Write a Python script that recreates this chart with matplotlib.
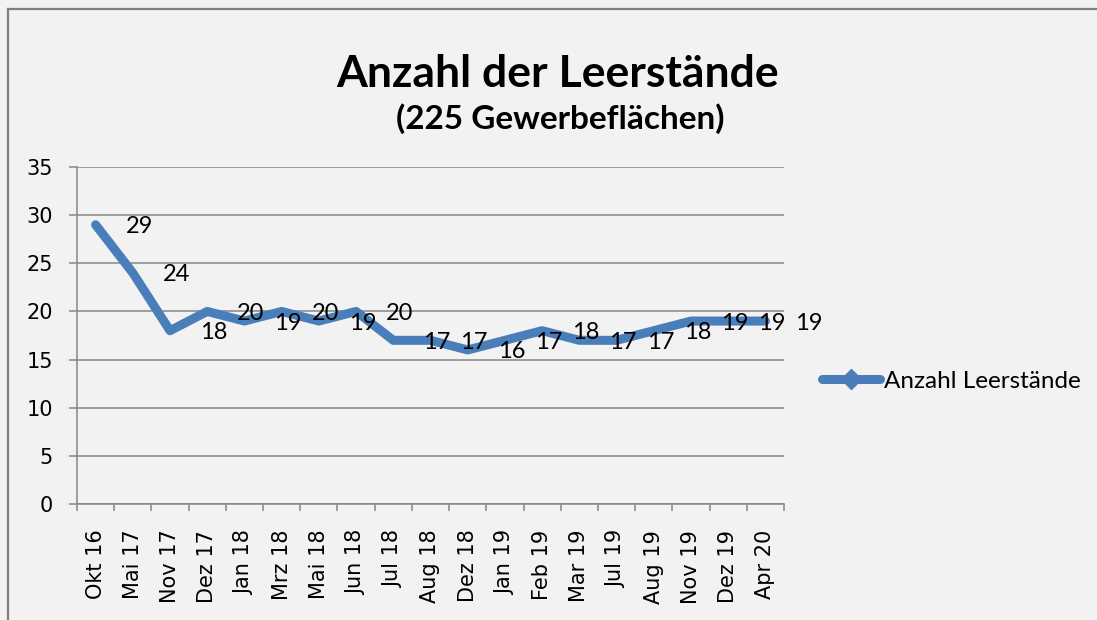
import matplotlib.pyplot as plt
from matplotlib.lines import Line2D

OUTFILE = "out.png"

months = ["Okt 16", "Mai 17", "Nov 17", "Dez 17", "Jan 18", "Mrz 18", "Mai 18",
          "Jun 18", "Jul 18", "Aug 18", "Dez 18", "Jan 19", "Feb 19", "Mar 19",
          "Jul 19", "Aug 19", "Nov 19", "Dez 19", "Apr 20"]
leerstaende = [29, 24, 18, 20, 19, 20, 19, 20, 17, 17, 16, 17, 18, 17, 17, 18, 19, 19, 19]
y_ticks = [0, 5, 10, 15, 20, 25, 30, 35]

BG = "#F2F2F2"
BLUE = "#4A7EBB"
GRID = "#868686"
LABEL_FONT = ["Lato", "DejaVu Sans"]


def plot_leerstaende(output_file):
    fig = plt.figure(figsize=(10.97, 6.2), dpi=100, facecolor=BG)
    ax = fig.add_axes([77 / 1097, 1 - 504 / 620, (784 - 77) / 1097, (504 - 167) / 620])
    ax.set_facecolor(BG)

    x = list(range(len(months)))
    ax.plot(x, leerstaende, color=BLUE, linewidth=6.5,
            solid_capstyle="round", solid_joinstyle="round", zorder=3)

    # Datenbeschriftungen rechts vom Punkt
    for xi, val in zip(x, leerstaende):
        ax.annotate(str(val), (xi, val), xytext=(30, -2), textcoords="offset pixels",
                    ha="left", va="center", fontsize=17, family=LABEL_FONT,
                    color="black", zorder=4)

    ax.set_xlim(-0.5, len(months) - 0.5)
    ax.set_ylim(0, 35)
    ax.set_yticks(y_ticks)
    ax.set_yticklabels([str(v) for v in y_ticks], fontsize=15, family="DejaVu Sans")
    ax.set_xticks(x)
    ax.set_xticklabels(months, rotation=90, fontsize=15, family="DejaVu Sans")
    ax.set_xticks([i - 0.5 for i in range(len(months) + 1)], minor=True)

    ax.tick_params(axis="x", which="major", length=0, pad=18.5)
    ax.tick_params(axis="x", which="minor", length=5.2, width=1.1, color=GRID)
    ax.tick_params(axis="y", length=5.8, width=1.1, color=GRID, pad=11.5)

    ax.grid(axis="y", color=GRID, linewidth=1.1, zorder=1)
    ax.set_axisbelow(True)
    for side in ("top", "right"):
        ax.spines[side].set_visible(False)
    for side in ("left", "bottom"):
        ax.spines[side].set_color(GRID)
        ax.spines[side].set_linewidth(1.1)

    fig.text(558 / 1097, 1 - 87 / 620, "Anzahl der Leerstände", ha="center", va="baseline",
             fontsize=32, fontweight="bold", family=LABEL_FONT)
    fig.text(560 / 1097, 1 - 129 / 620, "(225 Gewerbeflächen)", ha="center", va="baseline",
             fontsize=24, fontweight="bold", family=LABEL_FONT)

    handle = Line2D([], [], color=BLUE, linewidth=6.5, solid_capstyle="round",
                    marker="D", markersize=10, markerfacecolor=BLUE, markeredgecolor=BLUE)
    fig.legend([handle], ["Anzahl Leerstände"], loc="center left",
               bbox_to_anchor=(822 / 1097, 1 - 381 / 620), frameon=False,
               prop={"family": LABEL_FONT, "size": 17.5}, handlelength=2.4,
               handletextpad=0.15, borderpad=0, borderaxespad=0)

    # Rahmen des Diagrammbereichs
    fig.add_artist(Line2D([8 / 1097, 1], [1 - 9 / 620, 1 - 9 / 620], color="#808080",
                          linewidth=1.6, transform=fig.transFigure))
    fig.add_artist(Line2D([8 / 1097, 8 / 1097], [0, 1 - 9 / 620], color="#808080",
                          linewidth=1.6, transform=fig.transFigure))

    fig.savefig(output_file, dpi=100, facecolor=BG)
    plt.close(fig)


if __name__ == "__main__":
    plot_leerstaende(OUTFILE)
